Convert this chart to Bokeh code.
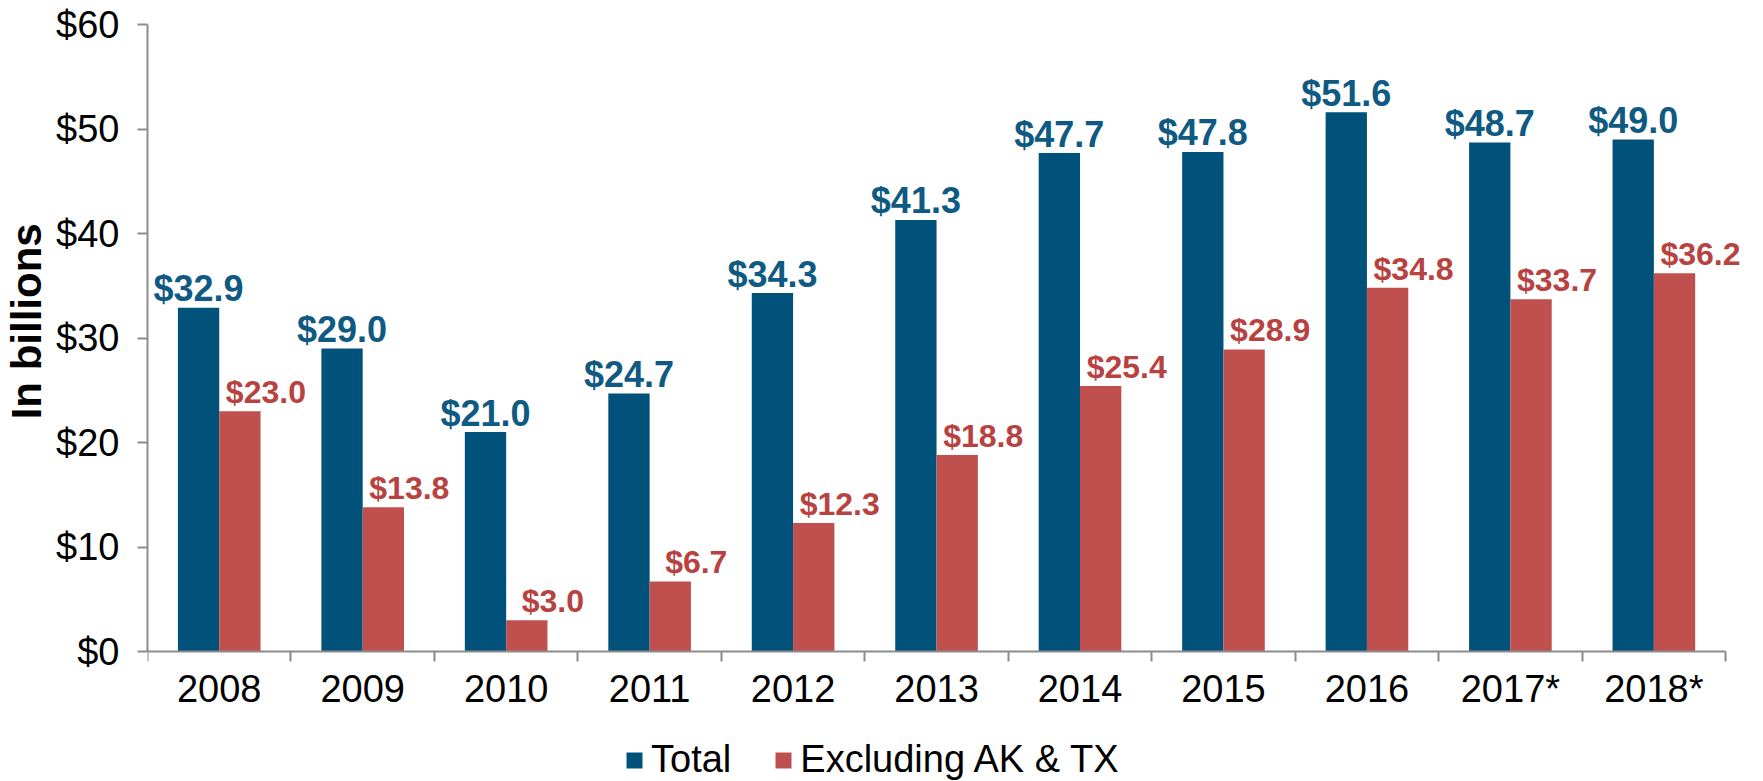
from bokeh.plotting import figure
from bokeh.models import (ColumnDataSource, Range1d, FixedTicker, NumeralTickFormatter,
                          Legend, LegendItem)
from bokeh.core.properties import value
from bokeh.transform import dodge
from bokeh.embed import file_html
from bokeh.resources import INLINE

# ---- data ----
years = ["2008", "2009", "2010", "2011", "2012", "2013", "2014", "2015", "2016", "2017*", "2018*"]
total = [32.9, 29.0, 21.0, 24.7, 34.3, 41.3, 47.7, 47.8, 51.6, 48.7, 49.0]
excl_ak_tx = [23.0, 13.8, 3.0, 6.7, 12.3, 18.8, 25.4, 28.9, 34.8, 33.7, 36.2]
y_ticks = [0, 10, 20, 30, 40, 50, 60]

BLUE = "#01527A"
RED = "#C0504D"
BLUE_TXT = "#0F5A82"
RED_TXT = "#B8423F"
GRAY = "#8C8C8C"
FONT = "Liberation Sans"

# ---- layout (pixels) ----
W, H = 1747, 781
LEFT, TOP = 140, 24
AXIS_RIGHT = 1725          # end of the category axis
ZERO_Y = 651               # pixel row of $0
n = len(years)
cat_px = (AXIS_RIGHT - LEFT) / n
unit_px = (ZERO_Y - TOP) / 60
x_end = n + (W - AXIS_RIGHT) / cat_px
y_start = -(H - ZERO_Y) / unit_px

idx = list(range(n))
src = ColumnDataSource(dict(
    x=[i + 0.5 for i in idx],
    total=total,
    excl=excl_ak_tx,
    total_lbl=[f"${v:.1f}" for v in total],
    excl_lbl=[f"${v:.1f}" for v in excl_ak_tx],
))

p = figure(width=W, height=H, output_backend="svg", toolbar_location=None,
           x_range=Range1d(0, x_end), y_range=Range1d(y_start, 60),
           min_border_left=LEFT, min_border_right=0, min_border_top=TOP, min_border_bottom=0)
p.outline_line_color = None
p.xgrid.visible = False
p.ygrid.visible = False
p.background_fill_color = "white"

bw = 0.288
r_tot = p.vbar(x=dodge("x", -bw / 2), top="total", width=bw, source=src,
               fill_color=BLUE, line_color=None)
r_exc = p.vbar(x=dodge("x", bw / 2), top="excl", width=bw, source=src,
               fill_color=RED, line_color=None)

p.text(x=dodge("x", -bw / 2), y="total", text="total_lbl", source=src,
       text_align="center", text_baseline="alphabetic", y_offset=-19,
       text_font=value(FONT), text_font_size="36px", text_font_style="bold", text_color=BLUE_TXT)
p.text(x=dodge("x", bw / 2), y="excl", text="excl_lbl", source=src,
       text_align="center", text_baseline="alphabetic", y_offset=-19, x_offset=26,
       text_font=value(FONT), text_font_size="32px", text_font_style="bold", text_color=RED_TXT)

# y axis
ya = p.yaxis[0]
ya.bounds = (0, 60)
ya.ticker = FixedTicker(ticks=y_ticks, minor_ticks=[])
ya.formatter = NumeralTickFormatter(format="$0")
ya.axis_line_color = GRAY
ya.axis_line_width = 2
ya.major_tick_line_color = GRAY
ya.major_tick_line_width = 2
ya.major_tick_out = 10
ya.major_tick_in = 0
ya.minor_tick_line_color = None
ya.major_label_text_font = FONT
ya.major_label_text_font_size = "38px"
ya.major_label_text_color = "black"
ya.major_label_standoff = 18
ya.axis_label = "\u00a0" * 14 + "In billions"
ya.axis_label_text_font = FONT
ya.axis_label_text_font_size = "42px"
ya.axis_label_text_font_style = "bold"
ya.axis_label_text_color = "black"
ya.axis_label_standoff = 3

# x axis drawn at $0: labels at centres, tick marks at category boundaries
xa = p.xaxis[0]
xa.fixed_location = 0
xa.bounds = (0, n)
xa.ticker = FixedTicker(ticks=[i + 0.5 for i in idx], minor_ticks=list(range(n + 1)))
xa.major_label_overrides = {i + 0.5: y for i, y in zip(idx, years)}
xa.axis_line_color = GRAY
xa.axis_line_width = 2
xa.major_tick_line_color = None
xa.major_tick_out = 0
xa.major_tick_in = 0
xa.minor_tick_line_color = GRAY
xa.minor_tick_line_width = 2
xa.minor_tick_out = 10
xa.minor_tick_in = 0
xa.major_label_text_font = FONT
xa.major_label_text_font_size = "38px"
xa.major_label_text_color = "black"
xa.major_label_standoff = 6

legend = Legend(items=[LegendItem(label="Total", renderers=[r_tot]),
                       LegendItem(label="Excluding AK & TX", renderers=[r_exc])],
                orientation="horizontal", location=(477, 0),
                padding=0, margin=0, spacing=42, label_standoff=7,
                glyph_width=20, glyph_height=20,
                label_text_font=FONT, label_text_font_size="38px", label_text_color="black",
                border_line_color=None, background_fill_alpha=0)
p.add_layout(legend, "center")

open("out.html", "w").write(file_html(p, INLINE))
